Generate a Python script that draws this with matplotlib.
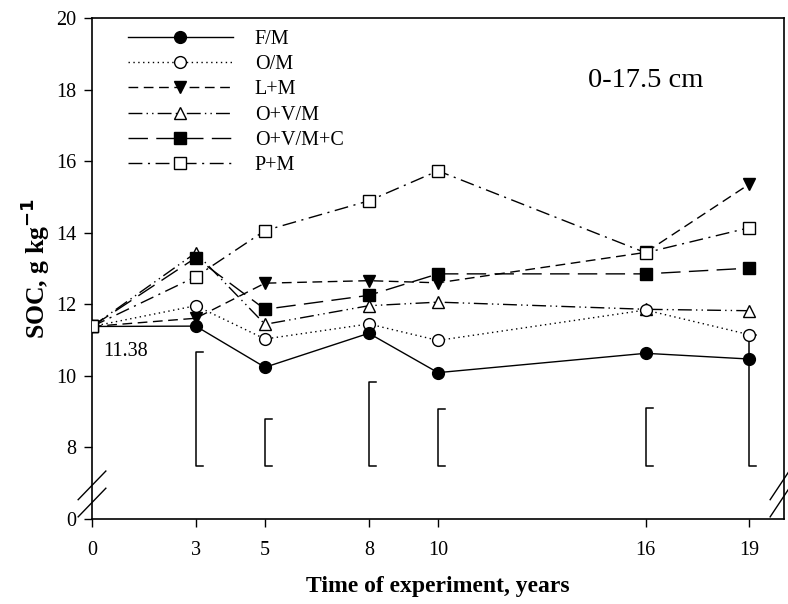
import numpy as np
import matplotlib
matplotlib.use("Agg")
import matplotlib.pyplot as plt

plt.rcParams['font.family'] = ['Liberation Serif', 'DejaVu Serif']

# data (SOC, g/kg)
years = [0, 3, 5, 8, 10, 16, 19]
fm = [11.38, 11.39, 10.24, 11.19, 10.09, 10.63, 10.47]
om = [11.38, 11.96, 11.03, 11.45, 10.99, 11.84, 11.15]
lm = [11.38, 11.61, 12.59, 12.66, 12.60, 13.45, 15.36]
ovm = [11.38, 13.44, 11.44, 11.96, 12.06, 11.86, 11.82]
ovmc = [11.38, 13.30, 11.86, 12.25, 12.85, 12.85, 13.01]
pm = [11.38, 12.77, 14.06, 14.89, 15.73, 13.44, 14.14]

# LSD brackets
lsd_x = [3, 5, 8, 10, 16, 19]
lsd_top = [10.68, 8.79, 9.84, 9.07, 9.11, 11.15]
lsd_bottom = 7.47

ytick_pos = [6, 8, 10, 12, 14, 16, 18, 20]
ytick_lab = ['0', '8', '10', '12', '14', '16', '18', '20']

fig = plt.figure(figsize=(7.88, 6.04), dpi=100)
ax = fig.add_axes([92/788, 1-519/604, 692/788, 501/604])

lw = 1.0
ms = 8.5
h_ovm, = ax.plot(years, ovm, color='black', lw=lw, linestyle=(0, (10, 3, 1, 3, 1, 3)),
                 marker='^', ms=ms+0.5, mfc='white', mec='black', mew=1.0, zorder=3)
h_lm, = ax.plot(years, lm, color='black', lw=lw, linestyle=(0, (7, 4)),
                marker='v', ms=ms+0.5, mfc='black', mec='black', zorder=4)
h_om, = ax.plot(years, om, color='black', lw=lw, linestyle=(0, (1, 2.5)),
                marker='o', ms=ms, mfc='white', mec='black', mew=1.0, zorder=5)
h_fm, = ax.plot(years, fm, color='black', lw=lw, linestyle='-',
                marker='o', ms=ms, mfc='black', mec='black', zorder=6)
h_ovmc, = ax.plot(years, ovmc, color='black', lw=lw, linestyle=(0, (14, 6)),
                  marker='s', ms=ms-0.5, mfc='black', mec='black', zorder=7)
h_pm, = ax.plot(years, pm, color='black', lw=lw, linestyle=(0, (10, 4, 1.5, 4)),
                marker='s', ms=ms-0.5, mfc='white', mec='black', mew=1.0, zorder=8)

# LSD bars drawn as "[" shapes
for x, t in zip(lsd_x, lsd_top):
    ax.plot([x + 0.2, x, x, x + 0.2], [t, t, lsd_bottom, lsd_bottom],
            color='black', lw=1.1, zorder=2)

ax.text(0.32, 10.68, '11.38', fontsize=14.5, va='center', ha='left')
ax.text(16.0, 18.25, '0-17.5 cm', fontsize=20.5, va='center', ha='center')

ax.set_xlim(0, 20)
ax.set_ylim(6, 20)
ax.set_xticks(years)
ax.set_yticks(ytick_pos)
ax.set_yticklabels(ytick_lab)
ax.tick_params(direction='out', length=5.5, width=1.0, labelsize=14.5)
ax.tick_params(axis='x', pad=10)
ax.tick_params(axis='y', pad=6)
for s in ax.spines.values():
    s.set_linewidth(1.2)

# axis break marks
for y0 in (6.06, 6.54):
    ax.plot([-0.40, 0.40], [y0, y0 + 0.80], color='black', lw=1.0, clip_on=False, zorder=10)
    ax.plot([19.60, 20.15], [y0, y0 + 0.80], color='black', lw=1.0, clip_on=False, zorder=10)

ax.set_xlabel('Time of experiment, years', fontsize=17, fontweight='bold', labelpad=12)
ax.set_ylabel('SOC, g kg$^{\\mathbf{-1}}$', fontsize=18.5, fontweight='bold', labelpad=3)

ax.legend([h_fm, h_om, h_lm, h_ovm, h_ovmc, h_pm],
          ['F/M', 'O/M', 'L+M', 'O+V/M', 'O+V/M+C', 'P+M'],
          loc='upper left', bbox_to_anchor=(0.052, 0.977), frameon=False,
          fontsize=14.5, handlelength=5.2, handletextpad=1.1, labelspacing=0.31,
          borderpad=0, borderaxespad=0)

fig.savefig('out.png', dpi=100)
